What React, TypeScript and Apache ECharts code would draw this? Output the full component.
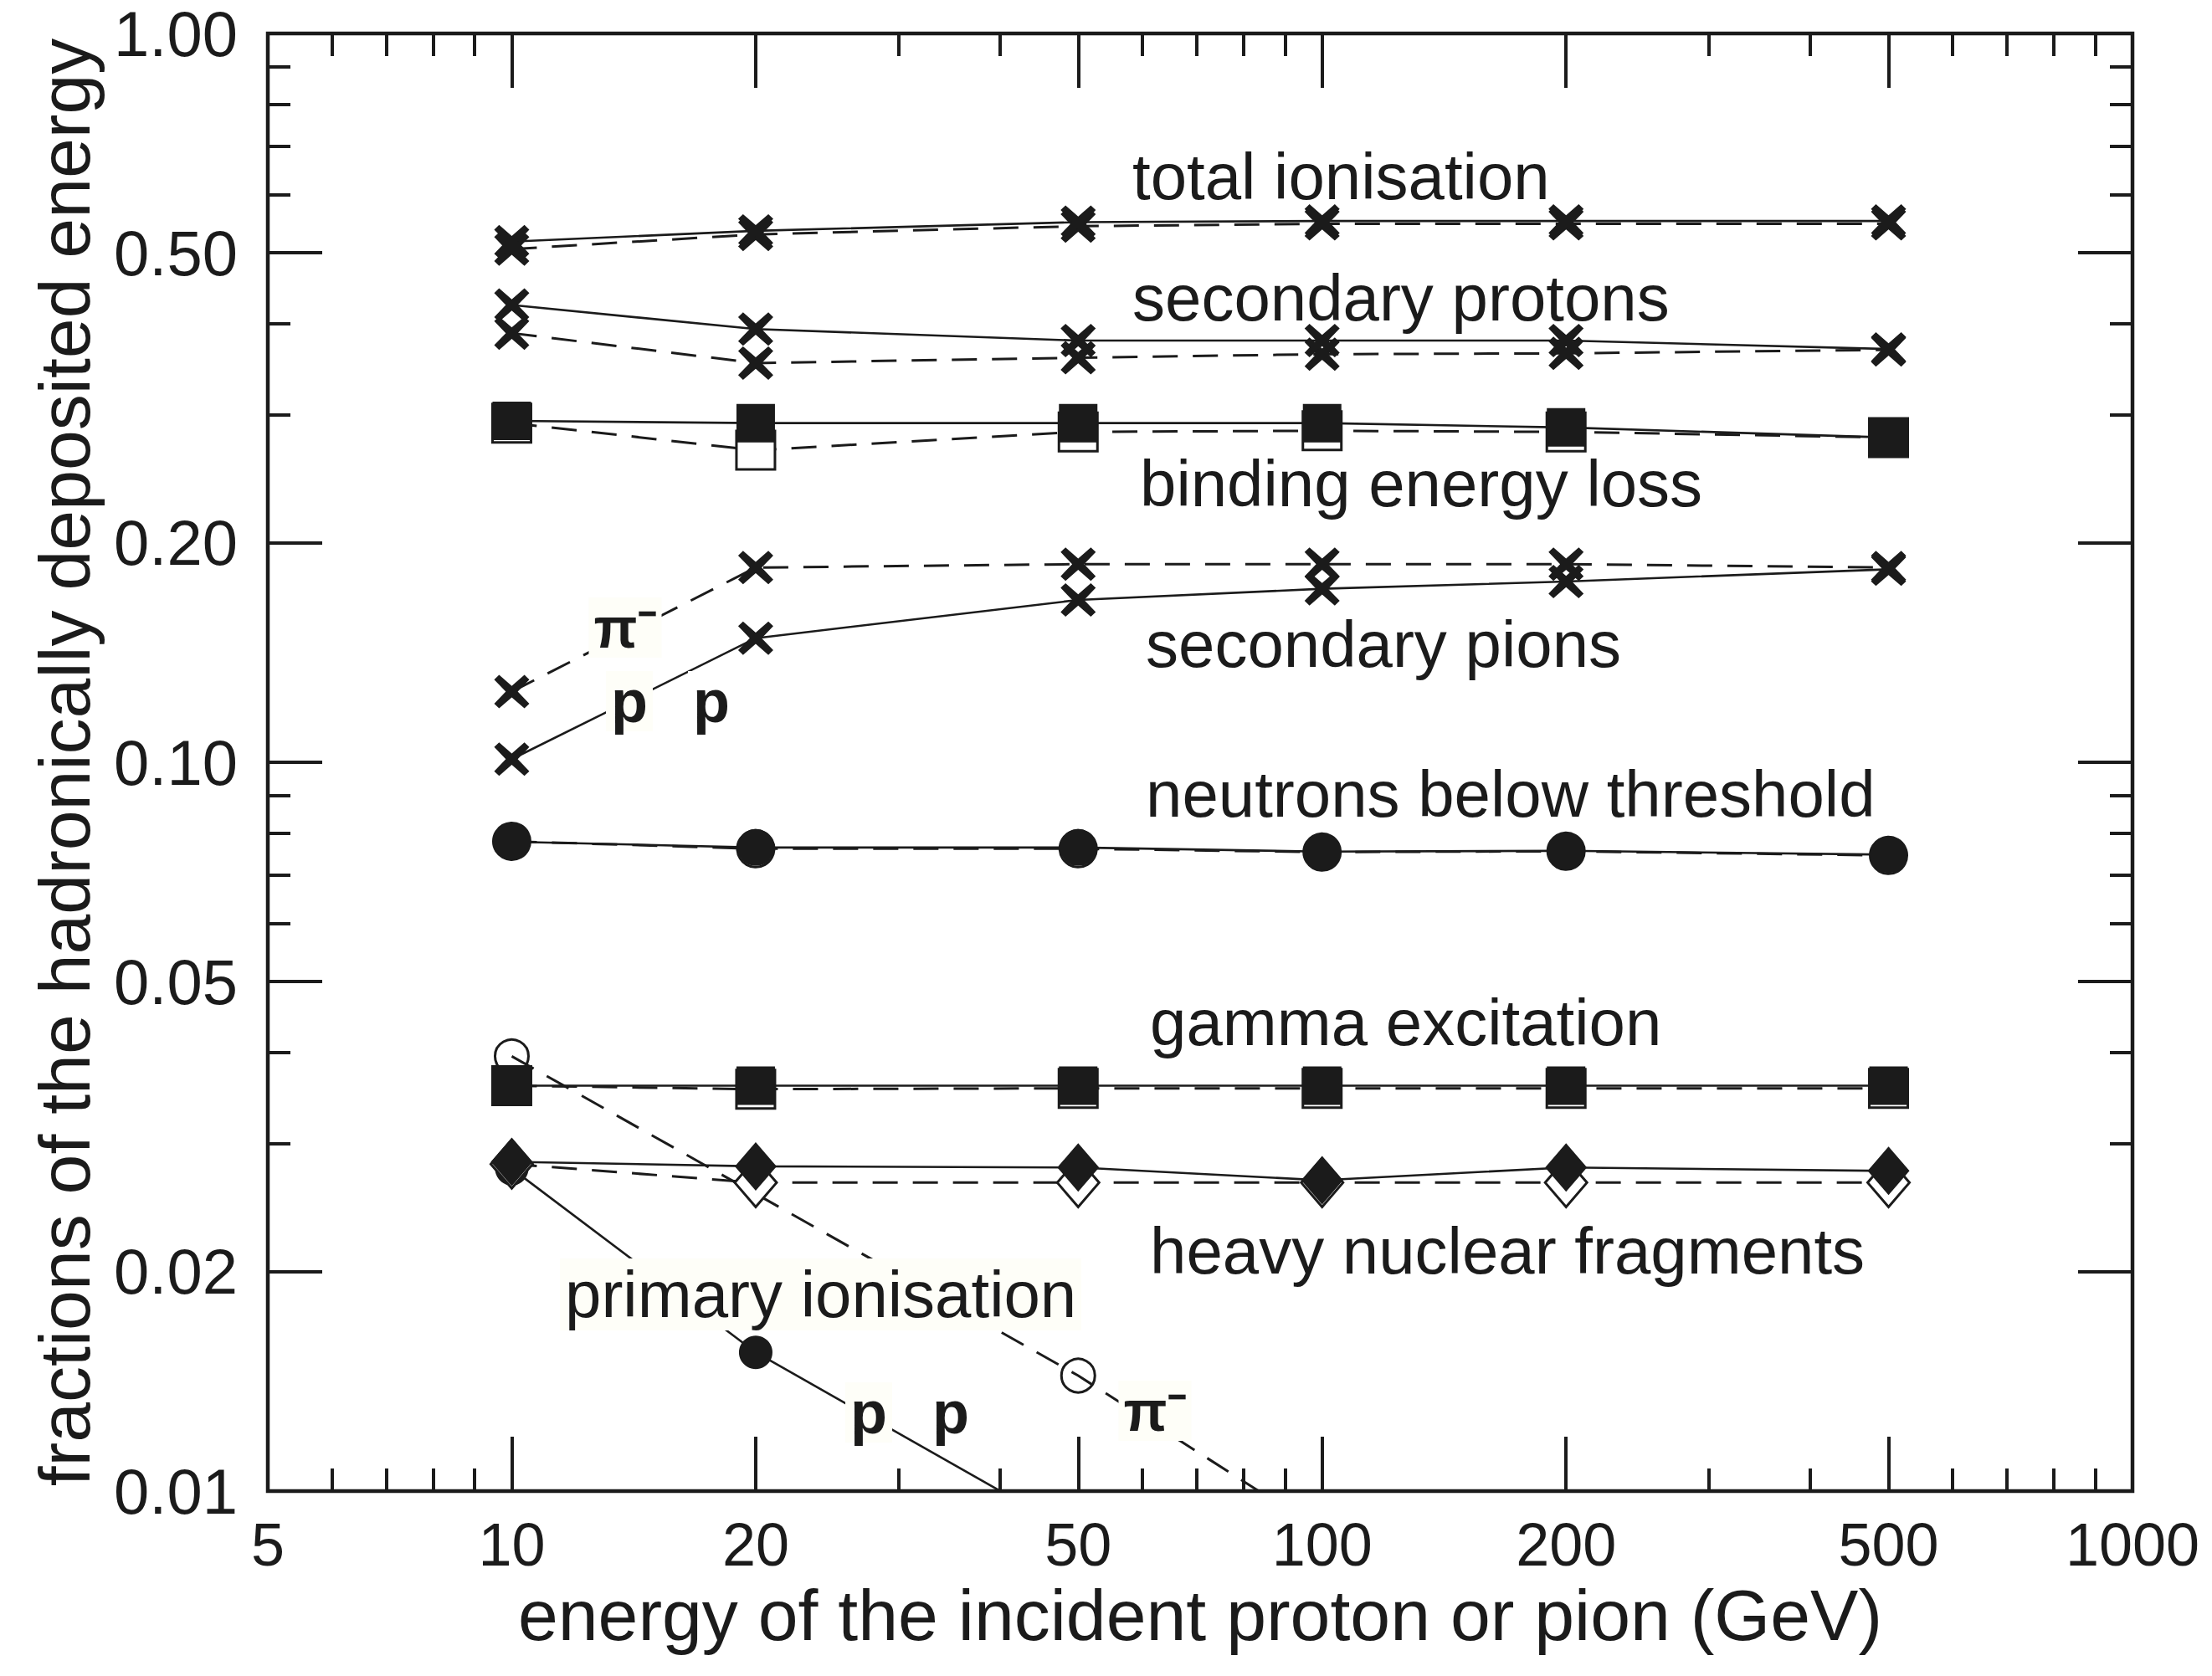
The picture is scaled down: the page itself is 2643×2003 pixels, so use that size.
import React, { useEffect, useRef } from "react";
import * as echarts from "echarts";

// ---- data (energies in GeV, fractions of hadronically deposited energy) ----
const energies = [10, 20, 50, 100, 200, 500];

const totalIonP = [0.518, 0.536, 0.551, 0.553, 0.553, 0.553];
const totalIonPi = [0.506, 0.53, 0.544, 0.548, 0.548, 0.548];

const secProtonsP = [0.424, 0.393, 0.379, 0.379, 0.379, 0.369];
const secProtonsPi = [0.388, 0.353, 0.359, 0.363, 0.364, 0.368];

const bindingP = [0.294, 0.292, 0.292, 0.292, 0.288, 0.279];
const bindingPi = [0.292, 0.268, 0.284, 0.285, 0.284, 0.279];

const secPionsP = [0.101, 0.148, 0.167, 0.173, 0.177, 0.184];
const secPionsPi = [0.125, 0.185, 0.187, 0.187, 0.187, 0.185];

const neutronsP = [0.0778, 0.0764, 0.0764, 0.0754, 0.0756, 0.0747];
const neutronsPi = [0.0779, 0.0761, 0.0761, 0.0753, 0.0755, 0.0745];

const gammaP = [0.036, 0.036, 0.036, 0.036, 0.036, 0.036];
const gammaPi = [0.036, 0.0356, 0.0357, 0.0357, 0.0357, 0.0357];

const heavyP = [0.0283, 0.0279, 0.0278, 0.0267, 0.0278, 0.0275];
const heavyPi = [0.0281, 0.0265, 0.0265, 0.0265, 0.0265, 0.0265];

const primaryPEnergies = [10, 20, 50];
const primaryP = [0.0277, 0.0155, 0.0087];
const primaryPiEnergies = [10, 50, 100];
const primaryPi = [0.0395, 0.0144, 0.0088];

// ---- axis ticks / labels ----
const xTickLabels = [5, 10, 20, 50, 100, 200, 500, 1000];
const xMajorTicks = [10, 20, 50, 100, 200, 500];
const xMinorTicks = [6, 7, 8, 9, 30, 40, 60, 70, 80, 90, 300, 400, 600, 700, 800, 900];
const yTickLabels = [0.01, 0.02, 0.05, 0.1, 0.2, 0.5, 1];
const yMajorTicks = [0.02, 0.05, 0.1, 0.2, 0.5];
const yMinorTicks = [0.03, 0.04, 0.06, 0.07, 0.08, 0.09, 0.3, 0.4, 0.6, 0.7, 0.8, 0.9];

const annotations = [
  "total ionisation",
  "secondary protons",
  "binding energy loss",
  "secondary pions",
  "neutrons below threshold",
  "gamma excitation",
  "heavy nuclear fragments",
  "primary ionisation",
];

const ink = "#1b1b1b";
const FONT = '"Liberation Sans", Arial, sans-serif';
const xPath =
  "path://M14,0 L50,33 L86,0 L100,14 L67,50 L100,86 L86,100 L50,67 L14,100 L0,86 L33,50 L0,14 Z";

function pts(xs: number[], ys: number[], hidden: number[] = []) {
  return xs.map((x, i) =>
    hidden.includes(i) ? { value: [x, ys[i]], symbol: "none" } : { value: [x, ys[i]] }
  );
}

type Mk = { symbol: string; size: number | number[]; filled: boolean; clearFill?: boolean };

function line(name: string, data: any[], dashed: boolean, mk: Mk) {
  return {
    type: "line",
    name,
    data,
    silent: true,
    clip: true,
    symbol: mk.symbol,
    symbolSize: mk.size,
    showAllSymbol: true,
    lineStyle: {
      color: ink,
      width: dashed ? 3 : 2.6,
      type: dashed ? [30, 18] : "solid",
    },
    itemStyle: mk.filled
      ? { color: ink, borderWidth: 0 }
      : {
          color: mk.clearFill ? "rgba(255,255,255,0)" : "#ffffff",
          borderColor: ink,
          borderWidth: 3,
        },
    emphasis: { disabled: true },
  };
}

const X: Mk = { symbol: xPath, size: [42, 40], filled: true };
const SQ: Mk = { symbol: "rect", size: 46, filled: true };
const SQo: Mk = { symbol: "rect", size: 46, filled: false };
const CI: Mk = { symbol: "circle", size: 44, filled: true };
const CIo: Mk = { symbol: "circle", size: 44, filled: false };
const DI: Mk = { symbol: "diamond", size: [50, 58], filled: true };
const DIo: Mk = { symbol: "diamond", size: [50, 58], filled: false };

const tickStyle = { color: ink, width: 4 };

function xAxisDef(position: string, ticks: number[], len: number, extra: any = {}) {
  return {
    type: "log",
    logBase: 10,
    min: 5,
    max: 1000,
    position,
    axisLine: { show: false },
    splitLine: { show: false },
    axisTick: { show: true, inside: true, length: len, customValues: ticks, lineStyle: tickStyle },
    axisLabel: { show: false },
    ...extra,
  };
}

function yAxisDef(position: string, ticks: number[], len: number, extra: any = {}) {
  return {
    type: "log",
    logBase: 10,
    min: 0.01,
    max: 1,
    position,
    axisLine: { show: false },
    splitLine: { show: false },
    axisTick: { show: true, inside: true, length: len, customValues: ticks, lineStyle: tickStyle },
    axisLabel: { show: false },
    ...extra,
  };
}

function label(text: string, x: number, y: number, opts: any = {}) {
  return {
    type: "text",
    x,
    y,
    z: 50,
    silent: true,
    style: {
      text,
      font: opts.font || `78px ${FONT}`,
      fill: ink,
      align: opts.align || "left",
      verticalAlign: "middle",
      backgroundColor: opts.bg,
      padding: opts.padding,
    },
  };
}

const cream = "#fefef8";

const option: any = {
  animation: false,
  backgroundColor: "#ffffff",
  grid: {
    left: 320,
    top: 40,
    width: 2228,
    height: 1742,
    show: true,
    borderColor: ink,
    borderWidth: 4.5,
    backgroundColor: "rgba(0,0,0,0)",
  },
  xAxis: [
    xAxisDef("bottom", xMajorTicks, 65, {
      axisLabel: {
        show: true,
        customValues: xTickLabels,
        margin: 28,
        fontSize: 72,
        lineHeight: 72,
        fontFamily: FONT,
        color: ink,
        formatter: (v: number) => String(Math.round(v)),
      },
      name: "energy of the incident proton or pion (GeV)",
      nameLocation: "middle",
      nameGap: 80,
      nameTextStyle: { fontSize: 86, fontFamily: FONT, color: ink },
    }),
    xAxisDef("bottom", xMinorTicks, 27),
    xAxisDef("top", xMajorTicks, 65),
    xAxisDef("top", xMinorTicks, 27),
  ],
  yAxis: [
    yAxisDef("left", yMajorTicks, 65, {
      axisLabel: {
        show: true,
        customValues: yTickLabels,
        margin: 36,
        fontSize: 76,
        lineHeight: 66,
        fontFamily: FONT,
        color: ink,
        formatter: (v: number) => v.toFixed(2),
      },
      name: "fractions of the hadronically deposited energy",
      nameLocation: "middle",
      nameRotate: 90,
      nameGap: 200,
      nameTextStyle: { fontSize: 86, fontFamily: FONT, color: ink },
    }),
    yAxisDef("left", yMinorTicks, 27),
    yAxisDef("right", yMajorTicks, 65),
    yAxisDef("right", yMinorTicks, 27),
  ],
  series: [
    line("primary ionisation π-", pts(primaryPiEnergies, primaryPi, [2]), true, {
      ...CIo,
      size: 40,
      clearFill: true,
    }),
    line("primary ionisation p", pts(primaryPEnergies, primaryP, [2]), false, { ...CI, size: 40 }),
    line("heavy nuclear fragments π-", pts(energies, heavyPi), true, DIo),
    line("heavy nuclear fragments p", pts(energies, heavyP), false, DI),
    line("gamma excitation π-", pts(energies, gammaPi), true, SQo),
    line("gamma excitation p", pts(energies, gammaP), false, SQ),
    line("neutrons below threshold π-", pts(energies, neutronsPi), true, CIo),
    line("neutrons below threshold p", pts(energies, neutronsP), false, CI),
    line("secondary pions π-", pts(energies, secPionsPi), true, X),
    line("secondary pions p", pts(energies, secPionsP), false, X),
    line("binding energy loss π-", pts(energies, bindingPi), true, SQo),
    line("binding energy loss p", pts(energies, bindingP), false, SQ),
    line("secondary protons π-", pts(energies, secProtonsPi), true, X),
    line("secondary protons p", pts(energies, secProtonsP), false, X),
    line("total ionisation π-", pts(energies, totalIonPi), true, X),
    line("total ionisation p", pts(energies, totalIonP), false, X),
  ],
  graphic: [
    label(annotations[0], 1353, 211),
    label(annotations[1], 1353, 356),
    label(annotations[2], 1362, 578),
    label(annotations[3], 1369, 770),
    label(annotations[4], 1369, 949),
    label(annotations[5], 1374, 1222),
    label(annotations[6], 1374, 1495),
    label(annotations[7], 669, 1547, { bg: cream, padding: [4, 6] }),
    label("π⁻", 747, 750, { font: `bold 68px ${FONT}`, align: "center", bg: cream, padding: [2, 6] }),
    label("p", 752, 838, { font: `bold 72px ${FONT}`, align: "center", bg: cream, padding: [0, 6] }),
    label("p", 850, 838, { font: `bold 72px ${FONT}`, align: "center", bg: "#ffffff", padding: [0, 6] }),
    label("p", 1038, 1688, { font: `bold 72px ${FONT}`, align: "center", bg: cream, padding: [0, 6] }),
    label("p", 1136, 1688, { font: `bold 72px ${FONT}`, align: "center", bg: "#ffffff", padding: [0, 6] }),
    label("π⁻", 1380, 1686, { font: `bold 68px ${FONT}`, align: "center", bg: cream, padding: [2, 6] }),
  ],
};

export default function App() {
  const ref = useRef<HTMLDivElement>(null);
  useEffect(() => {
    if (!ref.current) return;
    const chart = echarts.init(ref.current, null, { renderer: "svg" });
    chart.setOption(option);
    return () => chart.dispose();
  }, []);
  return (
    <div
      ref={ref}
      style={{ position: "fixed", left: 0, top: 0, width: 2643, height: 2003, background: "#fff" }}
    />
  );
}
